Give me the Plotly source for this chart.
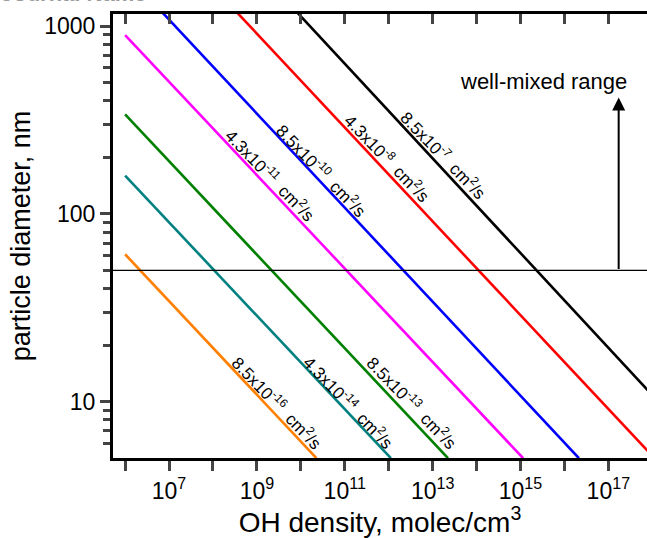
import math
import plotly.graph_objects as go

# ---- data ----
diffusivity_labels = ["8.5x10<sup>-16</sup>", "4.3x10<sup>-14</sup>", "8.5x10<sup>-13</sup>",
                      "4.3x10<sup>-11</sup>", "8.5x10<sup>-10</sup>", "4.3x10<sup>-8</sup>",
                      "8.5x10<sup>-7</sup>"]
line_colors = ["#FF8000", "#008080", "#008000", "#FF00FF", "#0000FF", "#FF0000", "#000000"]
# visible line end points (OH density, particle diameter)
oh_start = [1e6, 1e6, 1e6, 1e6, 10**6.86, 10**8.56, 10**9.93]
d_start = [61, 160, 339, 897, 1175, 1175, 1175]
oh_end = [10**10.355, 10**12.05, 10**13.35, 10**15.06, 10**16.33, 10**17.9, 10**17.9]
d_end = [5.0, 5.0, 5.0, 5.0, 5.0, 5.45, 11.5]
# label centres (log10 OH, log10 d)
label_logx = [9.453, 11.10, 12.53, 9.319, 10.478, 11.99, 13.264]
label_logy = [0.996, 1.0, 0.996, 2.209, 2.236, 2.30, 2.315]

well_mixed_d = 50
arrow_oh_log = 17.235
arrow_top_log = 2.62

x_tick_vals = [10**k for k in range(6, 18)]
x_tick_text = [("10<sup>%d</sup>" % k) if k % 2 == 1 else "" for k in range(6, 18)]
y_tick_vals = [10, 100, 1000]
y_tick_text = ["10", "100", "1000"]
y_minor_vals = [m * 10**k for k in range(0, 3) for m in range(2, 10)]

x_range_log = [5.724, 17.88]
y_range_log = [0.700, 3.065]

FONT = "Liberation Sans, Arial, sans-serif"

fig = go.Figure()
for i in range(len(line_colors)):
    fig.add_trace(go.Scatter(x=[oh_start[i], oh_end[i]], y=[d_start[i], d_end[i]],
                             mode="lines", line=dict(color=line_colors[i], width=2.6),
                             showlegend=False, hoverinfo="skip"))
# well-mixed threshold line
fig.add_trace(go.Scatter(x=[10**x_range_log[0], 10**(x_range_log[1] + 0.2)], y=[well_mixed_d, well_mixed_d],
                         mode="lines", line=dict(color="black", width=1.3),
                         showlegend=False, hoverinfo="skip"))
# dummy trace for top axis
fig.add_trace(go.Scatter(x=[10**x_range_log[0]], y=[10], xaxis="x2", mode="markers",
                         marker=dict(opacity=0), showlegend=False, hoverinfo="skip"))

for i in range(len(line_colors)):
    fig.add_annotation(x=label_logx[i], y=label_logy[i], xref="x", yref="y",
                       text=diffusivity_labels[i] + "&nbsp;&nbsp;cm<sup>2</sup>/s",
                       showarrow=False, textangle=46,
                       font=dict(family=FONT, size=17, color="black"))

fig.add_annotation(x=arrow_oh_log, y=arrow_top_log, ax=arrow_oh_log, ay=math.log10(well_mixed_d),
                   xref="x", yref="y", axref="x", ayref="y", showarrow=True,
                   arrowhead=2, arrowsize=1.3, arrowwidth=2, arrowcolor="black", text="")
fig.add_annotation(x=15.53, y=2.705, xref="x", yref="y", text="well-mixed range", showarrow=False,
                   font=dict(family=FONT, size=22, color="black"))

fig.add_annotation(x=-0.214, y=1.0135, xref="paper", yref="paper", xanchor="left", yanchor="bottom",
                   text="<b>Journal Name</b>", showarrow=False,
                   font=dict(family=FONT, size=22, color="#9a9a9a"))

fig.update_layout(
    width=647, height=538,
    margin=dict(l=113, r=0, t=14, b=80),
    paper_bgcolor="white", plot_bgcolor="white",
    font=dict(family=FONT, color="black"),
    xaxis=dict(type="log", range=x_range_log, tickvals=x_tick_vals, ticktext=x_tick_text,
               ticks="outside", ticklen=10, tickwidth=2.5, showline=True, linewidth=3,
               linecolor="black", showgrid=False, zeroline=False,
               tickfont=dict(size=23, family=FONT),
               title=dict(text="OH density, molec/cm<sup>3</sup>", font=dict(size=28, family=FONT),
                          standoff=3)),
    xaxis2=dict(type="log", range=x_range_log, overlaying="x", side="top",
                tickvals=x_tick_vals, showticklabels=False, ticks="inside", ticklen=10,
                tickwidth=2.5, showline=True, linewidth=3, linecolor="black",
                showgrid=False, zeroline=False),
    yaxis=dict(type="log", range=y_range_log, tickvals=y_tick_vals, ticktext=y_tick_text,
               ticks="outside", ticklen=10, tickwidth=2.5, showline=True, linewidth=3,
               linecolor="black", showgrid=False, zeroline=False,
               minor=dict(tickvals=y_minor_vals, ticks="outside", ticklen=7, tickwidth=2.5,
                          showgrid=False),
               tickfont=dict(size=23, family=FONT),
               title=dict(text="particle diameter, nm", font=dict(size=27, family=FONT),
                          standoff=6)),
)

fig.write_html("out.html", config={"displayModeBar": False},
               post_script="document.body.style.margin='0px';document.body.style.overflow='hidden';")
